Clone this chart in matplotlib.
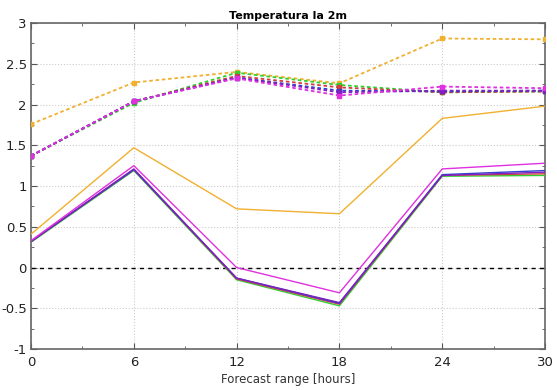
import matplotlib.pyplot as plt
from matplotlib.ticker import MultipleLocator, FuncFormatter

steps = [0, 6, 12, 18, 24, 30]

# dashed series (upper group)
rmse_orange = [1.76, 2.27, 2.40, 2.26, 2.81, 2.80]
rmse_green = [1.37, 2.02, 2.39, 2.24, 2.15, 2.16]
rmse_red = [1.37, 2.04, 2.35, 2.21, 2.15, 2.16]
rmse_blue = [1.37, 2.04, 2.33, 2.17, 2.16, 2.17]
rmse_purple = [1.37, 2.04, 2.33, 2.15, 2.17, 2.17]
rmse_magenta = [1.37, 2.04, 2.32, 2.11, 2.22, 2.20]

# solid series (lower group)
bias_orange = [0.41, 1.47, 0.72, 0.66, 1.83, 1.98]
bias_green = [0.31, 1.19, -0.15, -0.47, 1.12, 1.13]
bias_red = [0.32, 1.20, -0.14, -0.45, 1.13, 1.15]
bias_blue = [0.32, 1.20, -0.13, -0.44, 1.14, 1.19]
bias_purple = [0.32, 1.21, -0.13, -0.43, 1.13, 1.17]
bias_magenta = [0.33, 1.25, 0.00, -0.31, 1.21, 1.28]

colors = {
    'orange': '#f0b030',
    'green': '#30d030',
    'red': '#d04040',
    'blue': '#3040d0',
    'purple': '#8020c0',
    'magenta': '#e030e0',
}

fig = plt.figure(figsize=(5.57, 3.90), dpi=100)
ax = fig.add_axes([0.0557, 0.105, 0.9228, 0.836])

dashed = [(rmse_orange, 'orange'), (rmse_green, 'green'), (rmse_red, 'red'),
          (rmse_blue, 'blue'), (rmse_purple, 'purple'), (rmse_magenta, 'magenta')]
solid = [(bias_orange, 'orange'), (bias_green, 'green'), (bias_red, 'red'),
         (bias_blue, 'blue'), (bias_purple, 'purple'), (bias_magenta, 'magenta')]

for vals, c in dashed:
    ax.plot(steps, vals, color=colors[c], ls=(0, (2, 1.5)), lw=1.3,
            marker='s', ms=3, zorder=3)
for vals, c in solid:
    ax.plot(steps, vals, color=colors[c], ls='-', lw=1.0, zorder=3)

ax.axhline(0, color='black', ls=(0, (3, 3)), lw=1.0, zorder=2)

ax.set_xlim(0, 30)
ax.set_ylim(-1, 3)
ax.set_xticks(steps)
ax.xaxis.set_minor_locator(MultipleLocator(3))
ax.yaxis.set_major_locator(MultipleLocator(0.5))
ax.yaxis.set_minor_locator(MultipleLocator(0.25))
ax.yaxis.set_major_formatter(FuncFormatter(lambda v, p: f'{v:g}'))
ax.tick_params(which='both', direction='in', top=True, right=True,
               color='#555555', labelsize=9.5, labelcolor='#222222')
ax.tick_params(which='major', length=4)
ax.tick_params(axis='x', which='major', pad=5)
ax.tick_params(axis='y', which='major', pad=3)
ax.tick_params(which='minor', length=2)
ax.grid(False, which='minor')
ax.grid(True, which='major', color='#cccccc', ls=':', lw=0.8)
for s in ax.spines.values():
    s.set_color('#666666')
    s.set_linewidth(1.2)

ax.set_title('Temperatura la 2m', fontsize=8, fontweight='bold', pad=3)
ax.set_xlabel('Forecast range [hours]', fontsize=8.5, color='#333333', labelpad=3)

fig.savefig('out.png', dpi=100)
